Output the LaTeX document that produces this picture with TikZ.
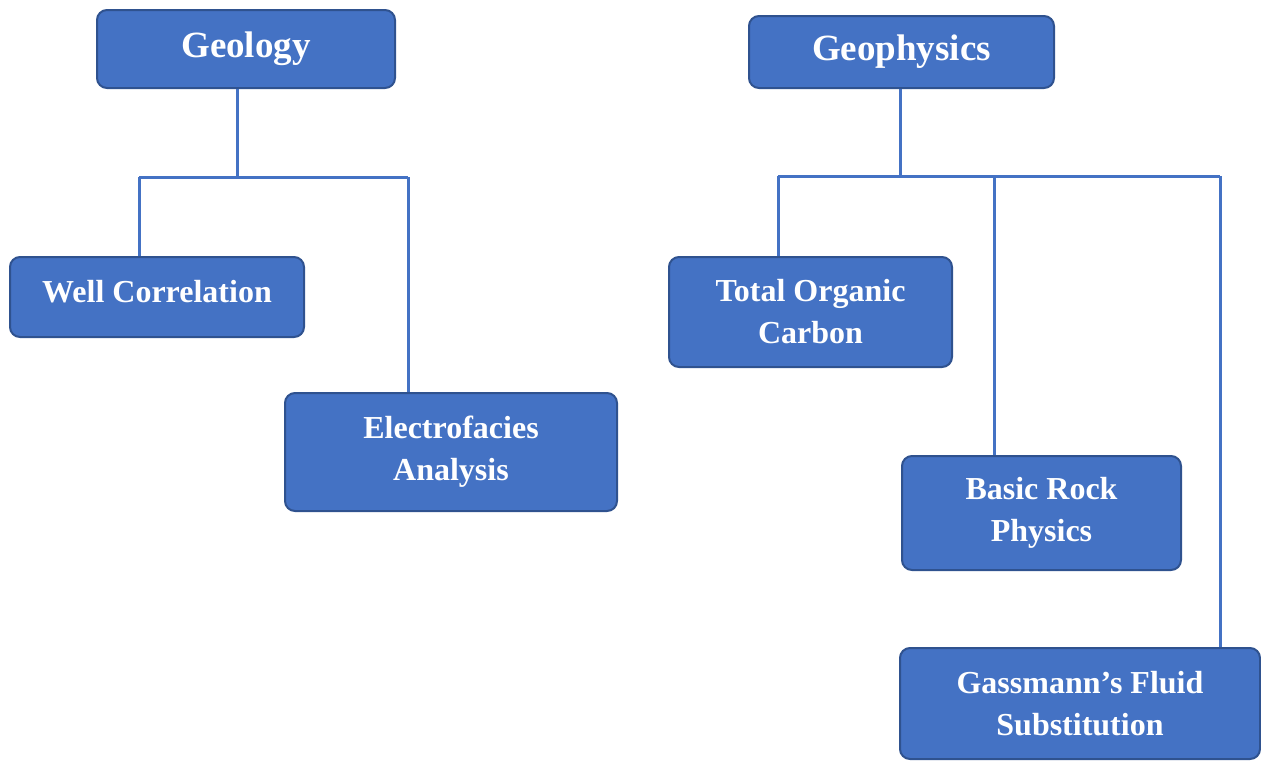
\documentclass[tikz,border=0pt]{standalone}
\usepackage{fontspec}
\setmainfont{Liberation Serif}
\definecolor{boxfill}{HTML}{4472C4}
\definecolor{boxborder}{HTML}{2F528F}
\definecolor{linecol}{HTML}{4472C4}
\tikzset{
  box/.style={draw=boxborder, fill=boxfill, line width=2pt, rounded corners=10pt,
    text=white, font=\bfseries\fontsize{32}{42}\selectfont, align=center, inner sep=0pt},
  titlebox/.style={box, font=\bfseries\fontsize{37}{42}\selectfont},
  conn/.style={draw=linecol, line width=3pt}
}
\begin{document}
\begin{tikzpicture}[x=1pt,y=-1pt]
\useasboundingbox (0,0) rectangle (1261,761);
% boxes
\node[titlebox, minimum width=298pt, minimum height=78pt] (geo) at (246,49) {Geology};
\node[titlebox, minimum width=305pt, minimum height=72pt] (gph) at (901.5,52) {Geophysics};
\node[box, minimum width=294pt, minimum height=80pt, text depth=12pt] (wc) at (157,297) {Well Correlation};
\node[box, minimum width=332pt, minimum height=118pt] (ea) at (451,452) {Electrofacies\\Analysis};
\node[box, minimum width=283pt, minimum height=110pt] (toc) at (810.5,312) {Total Organic\\Carbon};
\node[box, minimum width=279pt, minimum height=114pt] (brp) at (1041.5,513) {Basic Rock\\Physics};
\node[box, minimum width=360pt, minimum height=111pt] (gfs) at (1080,703.5) {Gassmann’s Fluid\\Substitution};
% left tree
\coordinate (gj) at (237,177);
\coordinate (gl) at (139,177);
\coordinate (gr) at (408,177);
\draw[conn] (geo.south -| gj) -- (gj);
\draw[conn] (gl) -- (gr);
\draw[conn] (gl) -- (wc.north -| gl);
\draw[conn] (gr) -- (ea.north -| gr);
% right tree
\coordinate (pj) at (900,176);
\coordinate (pl) at (778,176);
\coordinate (pm) at (994,176);
\coordinate (pr) at (1220,176);
\draw[conn] (gph.south -| pj) -- (pj);
\draw[conn] (pl) -- (pr);
\draw[conn] (pl) -- (toc.north -| pl);
\draw[conn] (pm) -- (brp.north -| pm);
\draw[conn] (pr) -- (gfs.north -| pr);
\end{tikzpicture}
\end{document}
